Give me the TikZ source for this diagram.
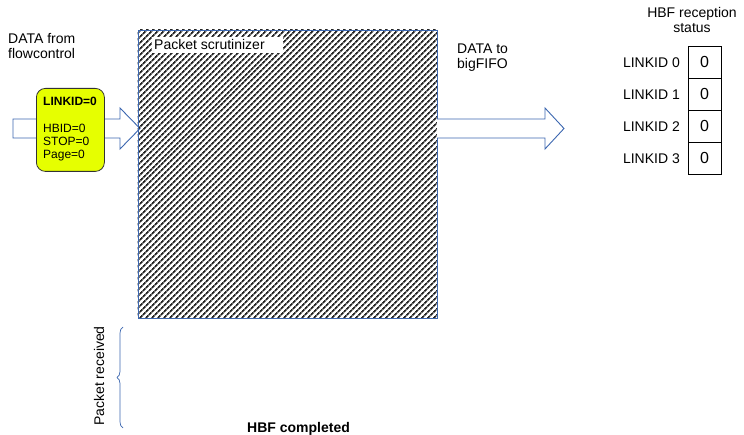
\documentclass[tikz,border=0pt]{standalone}
\usepackage{fontspec}
\setmainfont{Liberation Sans}
\usetikzlibrary{patterns.meta,decorations.pathreplacing}
\definecolor{flowblue}{HTML}{3C67B0}
\definecolor{tagyellow}{HTML}{E6FF00}
\tikzset{
  x=1pt, y=-1pt,
  txt/.style={inner sep=0pt, font=\fontsize{14}{15}\selectfont},
  tagtxt/.style={inner sep=0pt, align=left, font=\fontsize{12}{13}\selectfont},
  flowarrow/.style={draw=flowblue, line width=0.9pt, fill=white, line join=miter},
  statuscell/.style={draw=black, line width=0.7pt, minimum width=33pt, minimum height=32pt,
    inner sep=0pt, font=\fontsize{16}{16}\selectfont},
}
\begin{document}
\begin{tikzpicture}
\useasboundingbox (0,0) rectangle (744,435);

% incoming data arrow
\draw[flowarrow] (13,119) -- (120,119) -- (120,108) -- (140,128.5) -- (120,149) -- (120,138) -- (13,138) -- cycle;

% packet scrutinizer block
\path[pattern={Lines[angle=45,distance=4pt,line width=1.9pt]}, pattern color=black!85]
  (137.5,30) rectangle (437,318);
\node[draw=flowblue, line width=0.8pt, minimum width=299.5pt, minimum height=288pt, inner sep=0pt,
  anchor=north west] (scrut) at (137.5,30) {};
\fill[white] (152,37) rectangle (283,53);
\node[txt, anchor=base west] (scrutlbl) at (154,50) {Packet scrutinizer};

% outgoing data arrow
\draw[flowarrow] (437,119) -- (545,119) -- (545,108) -- (564,128.5) -- (545,149) -- (545,138) -- (437,138);

% packet header tag
\node[draw=black!80, line width=0.8pt, fill=tagyellow, rounded corners=9pt, anchor=north west,
  minimum width=68pt, minimum height=83pt, inner sep=0pt] (tag) at (36,88) {};
\node[tagtxt, anchor=base west, font=\bfseries\fontsize{12}{13}\selectfont] (tagid) at (43,106) {LINKID=0};
% base anchor of a multi-line node sits on its last line
\node[tagtxt, anchor=base west] (tagfields) at (43,159) {HBID=0\\STOP=0\\Page=0};

% side labels
\node[txt, anchor=base west, align=left] (datain) at (8,59) {DATA from\\flowcontrol};
\node[txt, anchor=base west, align=left] (dataout) at (457,69) {DATA to\\bigFIFO};

% HBF reception status table
\node[txt, anchor=base, align=center] (stattitle) at (692,32.5) {HBF reception\\status};
\foreach \i/\y in {0/62,1/94,2/126,3/158}{
  \node[statuscell] (cell\i) at (704.5,\y) {0};
  \node[txt, anchor=base east] (lbl\i) at (680,\y+6) {LINKID \i};
}

% packet received brace
\node[txt, rotate=90, anchor=base] (pktrx) at (104,376) {Packet received};
\coordinate (bracebot) at (123,428);
\coordinate (bracetop) at (123,327);
\draw[flowblue, line width=0.7pt, decorate, decoration={brace, amplitude=6pt}] (bracebot) -- (bracetop);

\node[txt, anchor=base west, font=\bfseries\fontsize{14}{15}\selectfont] (hbfdone) at (247,432) {HBF completed};
\end{tikzpicture}
\end{document}
